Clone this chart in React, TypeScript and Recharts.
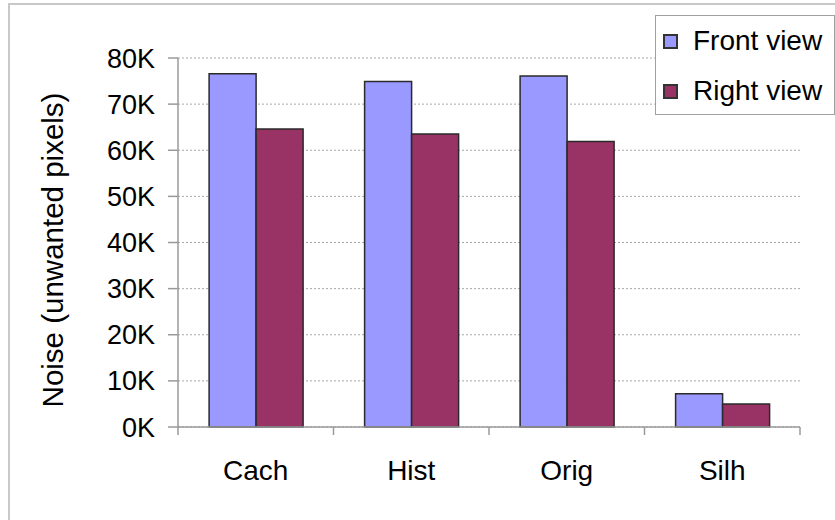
import React from "react";
import { BarChart, Bar, XAxis, YAxis, CartesianGrid, Legend } from "recharts";

const categories = ["Cach", "Hist", "Orig", "Silh"];
const frontView = [76600, 74900, 76100, 7200];
const rightView = [64600, 63500, 61900, 5000];
const yTicks = [0, 10000, 20000, 30000, 40000, 50000, 60000, 70000, 80000];
const seriesNames = ["Front view", "Right view"];
const seriesColors = ["#9999FF", "#993366"];

const data = categories.map((c, i) => ({
  name: c,
  front: frontView[i],
  right: rightView[i],
}));

const FONT = "'Liberation Sans', Arial, sans-serif";
const AXIS_GRAY = "#9a9a9a";

const XTick = (props: any) => {
  const { x, y, payload, index, visibleTicksCount } = props;
  const half = payload && payload.offset ? payload.offset : 77.75;
  const axisY = y - 8;
  const isLast = index === (visibleTicksCount ?? categories.length) - 1;
  return (
    <g>
      <line x1={x - half} x2={x - half} y1={axisY} y2={axisY + 8} stroke={AXIS_GRAY} strokeWidth={1.5} />
      {isLast && (
        <line x1={x + half} x2={x + half} y1={axisY} y2={axisY + 8} stroke={AXIS_GRAY} strokeWidth={1.5} />
      )}
      <text x={x} y={axisY + 53} textAnchor="middle" fontFamily={FONT} fontSize={28} fill="#000">
        {payload.value}
      </text>
    </g>
  );
};

const YTitle = () => (
  <text
    x={52}
    y={250}
    transform="rotate(-90, 52, 250)"
    textAnchor="middle"
    dominantBaseline="central"
    fontFamily={FONT}
    fontSize={29.5}
    fill="#000"
  >
    Noise (unwanted pixels)
  </text>
);

const LegendBox = () => (
  <div
    style={{
      width: 180,
      height: 100,
      border: "1px solid #a0a0a0",
      background: "#fff",
      boxSizing: "border-box",
      fontFamily: FONT,
      fontSize: 28,
      color: "#000",
      position: "relative",
      textAlign: "left",
    }}
  >
    {seriesNames.map((n, i) => (
      <div
        key={n}
        style={{
          position: "absolute",
          left: 7,
          top: 9 + i * 50,
          height: 32,
          display: "flex",
          alignItems: "center",
          whiteSpace: "nowrap",
        }}
      >
        <span
          style={{
            display: "inline-block",
            width: 15,
            height: 15,
            background: seriesColors[i],
            border: "2px solid #333",
            boxSizing: "border-box",
            marginRight: 15,
          }}
        />
        <span>{n}</span>
      </div>
    ))}
  </div>
);

export default function App() {
  return (
    <div
      style={{
        position: "absolute",
        left: 0,
        top: 0,
        width: 835,
        height: 520,
        overflow: "hidden",
        background: "#fff",
      }}
    >
      <div
        style={{
          position: "absolute",
          left: 8,
          top: 3,
          width: 860,
          height: 560,
          border: "2px solid #c8c8c8",
        }}
      />
      <div style={{ position: "absolute", left: 0, top: 0 }}>
        <BarChart
          width={835}
          height={520}
          data={data}
          margin={{ top: 58, right: 35, left: 0, bottom: 53 }}
          barCategoryGap="20%"
          barGap={0}
        >
          <CartesianGrid vertical={false} stroke="#a8a8a8" strokeDasharray="2 2" />
          <XAxis
            dataKey="name"
            height={40}
            axisLine={{ stroke: AXIS_GRAY, strokeWidth: 1.5 }}
            tickLine={false}
            tickSize={8}
            tickMargin={0}
            tick={<XTick />}
            interval={0}
          />
          <YAxis
            width={178}
            domain={[0, 80000]}
            ticks={yTicks}
            interval={0}
            axisLine={{ stroke: AXIS_GRAY, strokeWidth: 1.5 }}
            tickLine={{ stroke: AXIS_GRAY, strokeWidth: 1.5 }}
            tickSize={10}
            tickMargin={13}
            tickFormatter={(v: number) => `${v / 1000}K`}
            tick={{ fontFamily: FONT, fontSize: 27, fill: "#000" }}
            label={<YTitle />}
          />
          <Legend
            layout="horizontal"
            verticalAlign="middle"
            align="center"
            content={<LegendBox />}
            wrapperStyle={{ position: "absolute", left: 655, top: 15, width: 180, height: 100, margin: 0 }}
          />
          <Bar dataKey="front" name={seriesNames[0]} fill={seriesColors[0]} stroke="#2a2a2a" strokeWidth={1.5} isAnimationActive={false} />
          <Bar dataKey="right" name={seriesNames[1]} fill={seriesColors[1]} stroke="#2a2a2a" strokeWidth={1.5} isAnimationActive={false} />
        </BarChart>
      </div>
    </div>
  );
}
